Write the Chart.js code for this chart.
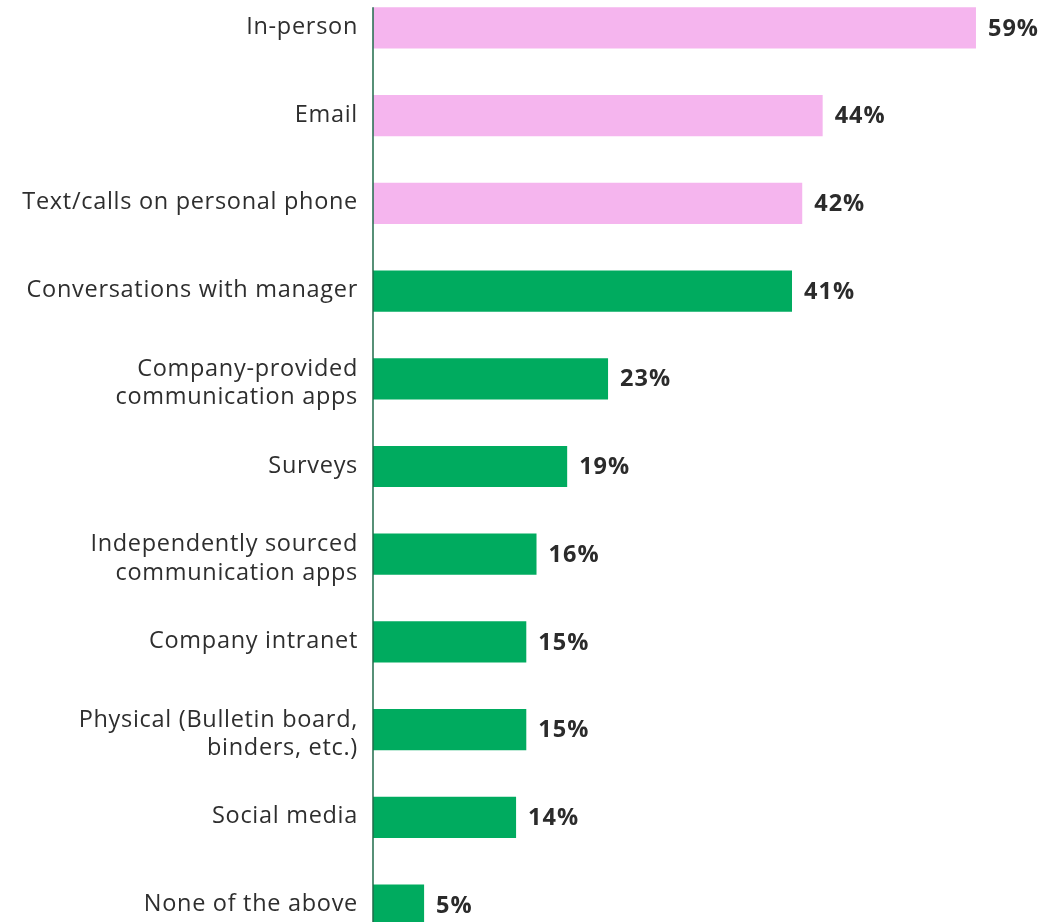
<!DOCTYPE html>
<html>
<head>
<meta charset="utf-8">
<script src="https://cdn.jsdelivr.net/npm/chart.js@4.4.0/dist/chart.umd.min.js"></script>
<style>
  html, body { margin: 0; padding: 0; background: #fff; overflow: hidden; }
  #wrap { position: relative; top: -16px; width: 1053px; height: 965px; }
</style>
</head>
<body>
<div id="wrap"><canvas id="chart"></canvas></div>
<script>
const channels = [
    'In-person',
    'Email',
    'Text/calls on personal phone',
    'Conversations with manager',
    ['Company-provided', 'communication apps'],
    'Surveys',
    ['Independently sourced', 'communication apps'],
    'Company intranet',
    ['Physical (Bulletin board,', 'binders, etc.)'],
    'Social media',
    'None of the above'
];
const shares = [59, 44, 42, 41, 23, 19, 16, 15, 15, 14, 5];
const barColors = ['#f5b5ee', '#f5b5ee', '#f5b5ee', '#00ab5f', '#00ab5f', '#00ab5f', '#00ab5f', '#00ab5f', '#00ab5f', '#00ab5f', '#00ab5f'];

const fontFamily = '"Open Sans", sans-serif';

// category labels, value labels and the axis line
const barExtras = {
    id: 'barExtras',
    afterDatasetsDraw(chart) {
        const ctx = chart.ctx;
        const meta = chart.getDatasetMeta(0);
        const yScale = chart.scales.y;
        const x0 = chart.scales.x.getPixelForValue(0);
        const first = meta.data[0];
        ctx.save();
        ctx.strokeStyle = '#1f6b4a';
        ctx.lineWidth = 1.5;
        ctx.beginPath();
        ctx.moveTo(x0, first.y - first.height / 2);
        ctx.lineTo(x0, chart.chartArea.bottom);
        ctx.stroke();

        // category labels: two-line ones sit with the block spanning the bar
        ctx.fillStyle = '#2e2e2e';
        ctx.font = '23.5px ' + fontFamily;
        ctx.letterSpacing = '0.7px';
        ctx.textAlign = 'right';
        ctx.textBaseline = 'alphabetic';
        channels.forEach((label, i) => {
            const y = yScale.getPixelForTick(i);
            const lines = Array.isArray(label) ? label : [label];
            const top = lines.length > 1 ? y - 3 : y + 6;
            lines.forEach((line, k) => {
                ctx.fillText(line, yScale.right - 15, top + k * 28.5);
            });
        });

        ctx.fillStyle = '#2b2b2b';
        ctx.font = 'bold 23.5px ' + fontFamily;
        ctx.letterSpacing = '1px';
        ctx.textAlign = 'left';
        ctx.textBaseline = 'middle';
        meta.data.forEach((bar, i) => {
            ctx.fillText(shares[i] + '%', bar.x + 12, bar.y + 1);
        });
        ctx.restore();
    }
};

const ctx = document.getElementById('chart').getContext('2d');
const chart = new Chart(ctx, {
    type: 'bar',
    data: {
        labels: channels,
        datasets: [{
            data: shares,
            backgroundColor: barColors,
            borderWidth: 0,
            categoryPercentage: 0.94,
            barPercentage: 0.5
        }]
    },
    options: {
        indexAxis: 'y',
        responsive: true,
        maintainAspectRatio: false,
        animation: false,
        layout: { padding: { left: 0, right: 5.5, top: 0, bottom: 0 } },
        plugins: {
            legend: { display: false },
            tooltip: { enabled: false }
        },
        scales: {
            x: {
                display: false,
                min: 0,
                max: 66
            },
            y: {
                afterFit: function(scale) {
                    scale.width = 373;
                    scale.paddingTop = 0;
                    scale.paddingBottom = 0;
                },
                border: { display: false },
                grid: { display: false, drawTicks: false },
                ticks: { display: false }
            }
        }
    },
    plugins: [barExtras]
});
</script>
</body>
</html>
